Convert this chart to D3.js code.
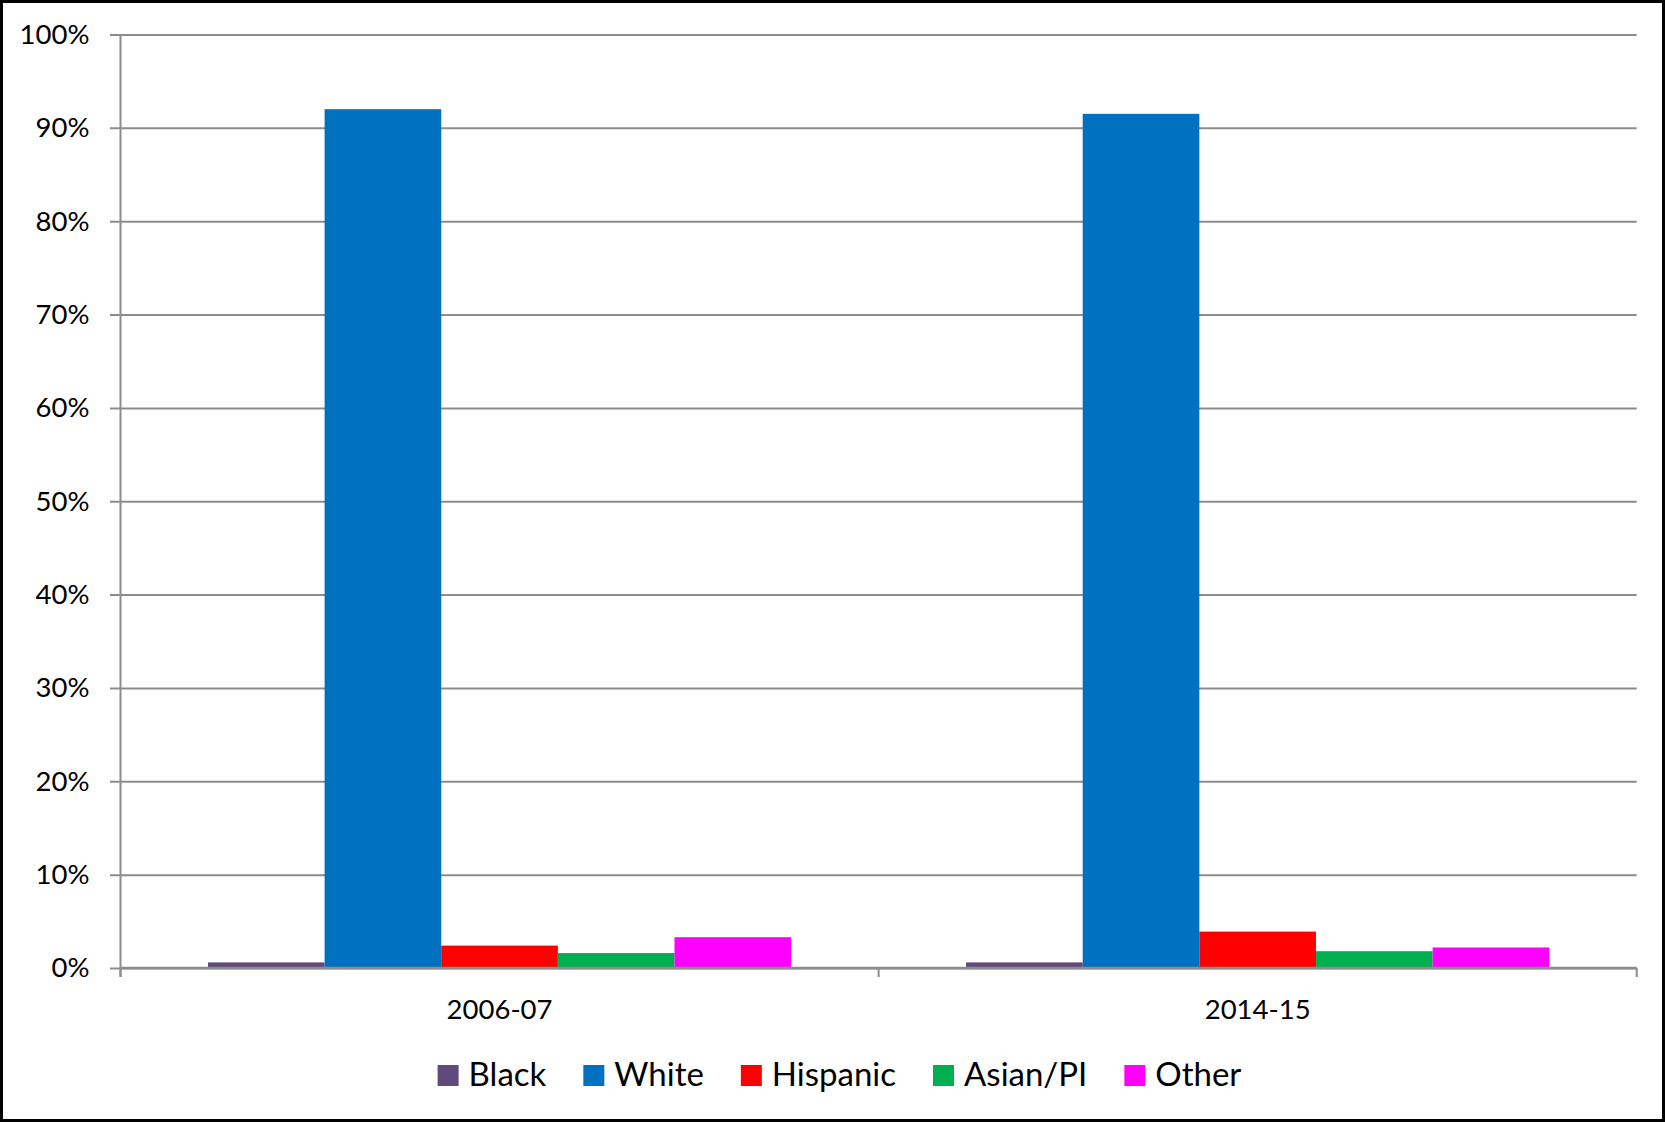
<!DOCTYPE html>
<html>
<head>
<meta charset="utf-8">
<script src="https://cdn.jsdelivr.net/npm/d3@7"></script>
<style>
  html, body { margin: 0; padding: 0; background: #fff; }
  svg { display: block; }
  text { font-family: Lato, "Open Sans", sans-serif; fill: #000; }
</style>
</head>
<body>
<svg id="chart" width="1665" height="1122"></svg>
<script>
// School years on the category axis
const years = ["2006-07", "2014-15"];
// Race / ethnicity groups, in legend order
const groups = ["Black", "White", "Hispanic", "Asian/PI", "Other"];
const groupColors = ["#604A7B", "#0070C0", "#FF0000", "#00B050", "#FF00FF"];
// Share of students in each group (percent), one array per year
const share2006 = [0.6, 92.0, 2.4, 1.6, 3.3];
const share2014 = [0.6, 91.5, 3.9, 1.8, 2.2];
const shares = [share2006, share2014];
// Value-axis tick labels
const yTicks = [0, 10, 20, 30, 40, 50, 60, 70, 80, 90, 100];

const svg = d3.select("#chart");
const W = 1665, H = 1122;
const plot = { left: 120.5, right: 1636.7, top: 34.5, bottom: 968 };
const gridColor = "#8c8c8c";

// Outer frame
svg.append("rect")
  .attr("x", 1.5).attr("y", 1.5)
  .attr("width", W - 3).attr("height", H - 3)
  .attr("fill", "#fff").attr("stroke", "#000").attr("stroke-width", 3);

const y = d3.scaleLinear().domain([0, 100]).range([plot.bottom, plot.top]);
const x0 = d3.scaleBand().domain(years).range([plot.left, plot.right]).paddingInner(0).paddingOuter(0);
const x1 = d3.scaleBand().domain(groups).range([0, x0.bandwidth()]).paddingInner(0).paddingOuter(0.75);
const color = d3.scaleOrdinal().domain(groups).range(groupColors);

// Value axis: gridlines that also serve as outward tick marks, plus labels
const tickOut = 10.5;
const yAxis = d3.axisLeft(y)
  .tickValues(yTicks)
  .tickSizeInner(-(plot.right - plot.left + tickOut))
  .tickSizeOuter(0)
  .tickPadding(20.5)
  .tickFormat(d => d + "%");
const gy = svg.append("g")
  .attr("transform", `translate(${plot.left - tickOut},0)`)
  .call(yAxis);
gy.select(".domain").remove();
gy.selectAll(".tick line").attr("stroke", gridColor).attr("stroke-width", 2);
gy.selectAll(".tick text")
  .attr("font-size", 27.5)
  .attr("font-family", "Lato, sans-serif")
  .attr("fill", "#000");

// Bars
const rows = years.map((yr, i) => ({ year: yr, values: groups.map((g, j) => ({ group: g, value: shares[i][j] })) }));
svg.append("g").selectAll("g")
  .data(rows)
  .join("g")
  .attr("transform", d => `translate(${x0(d.year)},0)`)
  .selectAll("rect")
  .data(d => d.values)
  .join("rect")
  .attr("x", d => x1(d.group))
  .attr("width", x1.bandwidth())
  .attr("y", d => y(d.value))
  .attr("height", d => y(0) - y(d.value))
  .attr("fill", d => color(d.group));

// Vertical value-axis line
svg.append("line")
  .attr("x1", plot.left).attr("x2", plot.left)
  .attr("y1", plot.top).attr("y2", plot.bottom + 9)
  .attr("stroke", gridColor).attr("stroke-width", 2);

// Category axis with tick marks at category boundaries
const xAxis = d3.axisBottom(x0).tickSize(0).tickPadding(0);
const gx = svg.append("g")
  .attr("transform", `translate(0,${plot.bottom})`)
  .call(xAxis);
gx.select(".domain").attr("stroke", gridColor).attr("stroke-width", 2.5)
  .attr("d", `M${plot.left},0H${plot.right}`);
gx.selectAll(".tick text")
  .attr("font-size", 27.5)
  .attr("font-family", "Lato, sans-serif")
  .attr("fill", "#000")
  .attr("dy", null)
  .attr("y", 51);
const boundaries = years.map(d => x0(d)).concat([x0(years[years.length - 1]) + x0.bandwidth()]);
gx.selectAll("line.bound")
  .data(boundaries)
  .join("line")
  .attr("class", "bound")
  .attr("x1", d => d).attr("x2", d => d)
  .attr("y1", 0).attr("y2", 9)
  .attr("stroke", gridColor).attr("stroke-width", 2);

// Legend, laid out left to right and centred under the chart
const legend = svg.append("g").attr("transform", "translate(0,1086)");
const sw = 21, swGap = 10, itemGap = 37;
const items = legend.selectAll("g").data(groups).join("g");
items.append("rect")
  .attr("width", sw).attr("height", sw)
  .attr("y", -sw)
  .attr("fill", d => color(d));
items.append("text")
  .attr("x", sw + swGap)
  .attr("font-size", 33)
  .text(d => d);
let cx = 0;
const widths = [];
items.each(function () {
  const t = d3.select(this).select("text").node().getComputedTextLength();
  widths.push(sw + swGap + t);
});
const total = d3.sum(widths) + itemGap * (groups.length - 1);
cx = 839.5 - total / 2;
items.attr("transform", (d, i) => {
  const pos = cx;
  cx += widths[i] + itemGap;
  return `translate(${pos},0)`;
});
</script>
</body>
</html>
